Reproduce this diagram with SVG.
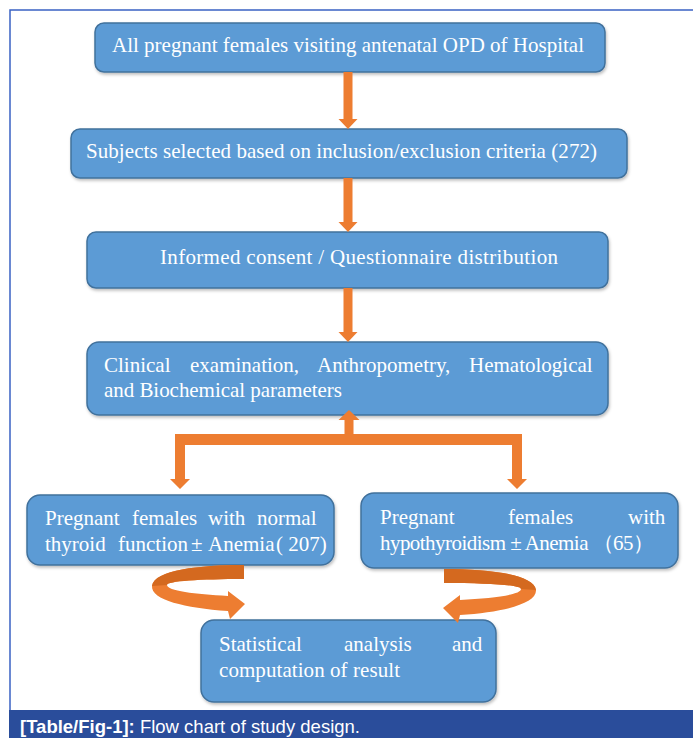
<svg xmlns="http://www.w3.org/2000/svg" width="693" height="738" viewBox="0 0 693 738">
<defs>
<style>
.box{fill:#5b9bd5;stroke:#41719c;stroke-width:1.5}
.t{font-family:"Liberation Serif","Times New Roman",serif;font-size:21px;fill:#ffffff}
.arr{fill:#ed7d31}
.arrd{fill:#d4691f}
.cap{font-family:"Liberation Sans",Arial,sans-serif;font-size:18.5px;fill:#ffffff}
</style>
<filter id="sh" x="-5%" y="-10%" width="110%" height="130%">
<feDropShadow dx="1" dy="2" stdDeviation="1.5" flood-color="#000" flood-opacity="0.25"/>
</filter>
</defs>
<rect width="693" height="738" fill="#ffffff"/>
<path d="M10 710 V10 H693" fill="none" stroke="#3a62c4" stroke-width="1.5"/>

<g id="n1"><rect class="box" filter="url(#sh)" x="95" y="23" width="510" height="49" rx="9"/>
<text class="t" x="112" y="52" textLength="472" lengthAdjust="spacing">All pregnant females visiting antenatal OPD of Hospital</text></g>

<g id="n2"><rect class="box" filter="url(#sh)" x="71" y="129" width="556" height="49" rx="9"/>
<text class="t" x="86" y="158" textLength="511" lengthAdjust="spacing">Subjects selected based on inclusion/exclusion criteria (272)</text></g>

<g id="n3"><rect class="box" filter="url(#sh)" x="87" y="232" width="521" height="56" rx="9"/>
<text class="t" x="160" y="264" textLength="398" lengthAdjust="spacing">Informed consent / Questionnaire distribution</text></g>

<g id="n4"><rect class="box" filter="url(#sh)" x="87" y="342" width="521" height="73" rx="12"/>
<text class="t" y="372"><tspan x="104">Clinical</tspan><tspan x="190">examination,</tspan><tspan x="317">Anthropometry,</tspan><tspan x="469">Hematological</tspan></text>
<text class="t" x="104" y="397" textLength="238" lengthAdjust="spacing">and Biochemical parameters</text></g>

<g id="n5"><rect class="box" filter="url(#sh)" x="27" y="495" width="307" height="70" rx="13"/>
<text class="t" y="525"><tspan x="45">Pregnant</tspan><tspan x="132">females</tspan><tspan x="208">with</tspan><tspan x="257">normal</tspan></text>
<text class="t" y="551"><tspan x="45">thyroid</tspan><tspan x="118">function</tspan><tspan x="191">±</tspan><tspan x="208">Anemia</tspan><tspan x="276">( 207)</tspan></text></g>

<g id="n6"><rect class="box" filter="url(#sh)" x="361" y="493" width="317" height="75" rx="13"/>
<text class="t" y="524"><tspan x="380">Pregnant</tspan><tspan x="508">females</tspan><tspan x="628">with</tspan></text>
<text class="t" x="380" y="550" textLength="274" lengthAdjust="spacing">hypothyroidism ± Anemia （65）</text></g>

<g id="n7"><rect class="box" filter="url(#sh)" x="201" y="620" width="295" height="82" rx="13"/>
<text class="t" y="651"><tspan x="219">Statistical</tspan><tspan x="344">analysis</tspan><tspan x="452">and</tspan></text>
<text class="t" x="219" y="677" textLength="181" lengthAdjust="spacing">computation of result</text></g>

<g id="connectors">
<polygon class="arr" points="343.5,72 352.5,72 352.5,119 357.5,119 348,129 338.5,119 343.5,119"/>
<polygon class="arr" points="343.5,178 352.5,178 352.5,222 357.5,222 348,232 338.5,222 343.5,222"/>
<polygon class="arr" points="343.5,288 352.5,288 352.5,332 357.5,332 348,342 338.5,332 343.5,332"/>
<polygon class="arr" points="344.5,434 353.5,434 353.5,420 359.5,420 349,410 338.5,420 344.5,420"/>
<rect class="arr" x="175" y="434" width="347" height="11"/>
<polygon class="arr" points="175,445 185,445 185,479 190,479 180,489 170,479 175,479"/>
<polygon class="arr" points="512,445 522,445 522,479 527,479 517,489 507,479 512,479"/>
<g id="curl-left">
<path class="arr" d="M244 565 C200 565 154 570 152 586 C151 600 185 608 228 611 L230 619 L245 604 L228 591 L228 596 C195 594 167 591 167 585 C167 581 200 579 244 579 Z"/>
<path class="arrd" d="M244 565 C200 565 154 570 152 586 L167 585 C167 581 200 579 244 579 Z"/>
</g>
<g id="curl-right" transform="matrix(-1 0 0 1 688 4)">
<path class="arr" d="M244 565 C200 565 154 570 152 586 C151 600 185 608 228 611 L230 619 L245 604 L228 591 L228 596 C195 594 167 591 167 585 C167 581 200 579 244 579 Z"/>
<path class="arrd" d="M244 565 C200 565 154 570 152 586 L167 585 C167 581 200 579 244 579 Z"/>
</g>
</g>

<rect x="9" y="710" width="684" height="28" fill="#2a4d9b"/>
<text class="cap" x="20" y="733"><tspan font-weight="bold">[Table/Fig-1]:</tspan> Flow chart of study design.</text>
</svg>
